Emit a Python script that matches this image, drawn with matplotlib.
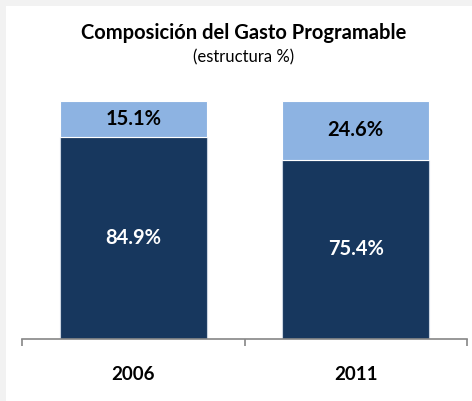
import matplotlib.pyplot as plt
from matplotlib.patches import Rectangle

# Datos
years = ['2006', '2011']
corriente = [84.9, 75.4]
capital = [15.1, 24.6]

dark = '#17375e'
light = '#8db3e2'

plt.rcParams['font.family'] = ['Lato', 'DejaVu Sans']

fig = plt.figure(figsize=(4.72, 4.01), dpi=100)
fig.patch.set_facecolor('#f2f2f2')
fig.patches.append(Rectangle((6 / 472, 0), 1, 1 - 6 / 401, transform=fig.transFigure,
                             facecolor='white', edgecolor='none', zorder=-5))

ax = fig.add_axes([22 / 472, 62 / 401, 445 / 472, 238 / 401])
ax.set_facecolor('none')
ax.set_zorder(2)

x = range(len(years))
ax.bar(x, corriente, width=0.66, color=dark, edgecolor='#c9d3e0', linewidth=0.8)
ax.bar(x, capital, bottom=corriente, width=0.66, color=light, edgecolor='white', linewidth=0.8)

for i in x:
    ax.text(i, corriente[i] / 2, f'{corriente[i]:.1f}%', ha='center', va='center',
            color='white', fontsize=14.5, fontweight='bold')
    ax.text(i, corriente[i] + capital[i] / 2, f'{capital[i]:.1f}%', ha='center', va='center',
            color='black', fontsize=14.5, fontweight='bold')

ax.set_xlim(-0.5, 1.5)
ax.set_ylim(0, 100)
ax.set_yticks([])
for s in ['top', 'right', 'left']:
    ax.spines[s].set_visible(False)
ax.spines['bottom'].set_color('#868686')
ax.spines['bottom'].set_linewidth(1.2)
ax.set_xticks([-0.5, 0.5, 1.5])
ax.set_xticklabels([])
ax.tick_params(axis='x', length=5, width=1.2, color='#868686')
for i in x:
    ax.text(i, -15, years[i], ha='center', va='center', fontsize=13.5, fontweight='bold')

fig.text(244 / 472, 1 - 33 / 401, 'Composición del Gasto Programable', ha='center', va='center',
         fontsize=14.5, fontweight='bold')
fig.text(244 / 472, 1 - 57 / 401, '(estructura %)', ha='center', va='center', fontsize=12)

fig.savefig('out.png', dpi=100)
